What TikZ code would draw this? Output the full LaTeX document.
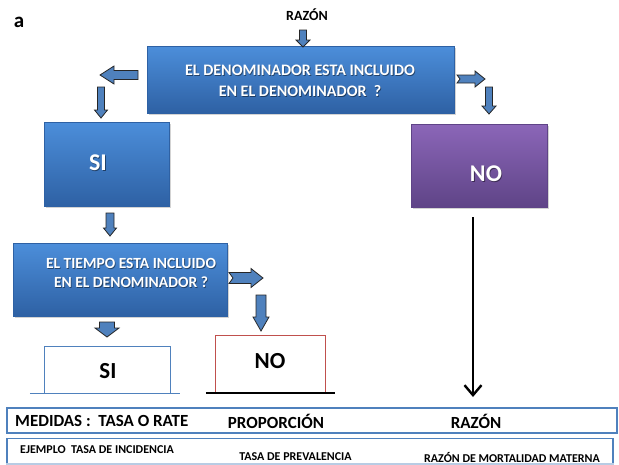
\documentclass[tikz,border=0pt]{standalone}
\usepackage{fontspec}
\setmainfont{Carlito}
\usetikzlibrary{shadows,arrows.meta}
\definecolor{bluetop}{HTML}{4C8EDA}
\definecolor{bluebot}{HTML}{2E61A4}
\definecolor{purtop}{HTML}{8B66B8}
\definecolor{purbot}{HTML}{5F4487}
\definecolor{arrfill}{HTML}{4F81BD}
\definecolor{outblue}{HTML}{4F81BD}
\definecolor{outred}{HTML}{C0504D}
\definecolor{rowlight}{HTML}{B8CCE4}
\tikzset{
  boxbase/.style={rectangle, inner sep=0pt, line width=0.4pt,
    drop shadow={shadow xshift=1.5pt, shadow yshift=-1.5pt, opacity=0.35}},
  bluebox/.style={boxbase, top color=bluetop, bottom color=bluebot, draw=bluebot},
  purbox/.style={boxbase, top color=purtop, bottom color=purbot, draw=purbot},
  wtext/.style={text=white, font=\bfseries, align=center, inner sep=0pt},
  tshadow/.style={text=black, text opacity=0.45, align=center, inner sep=0pt, xshift=0.8pt, yshift=-0.8pt},
  btext/.style={text=black, font=\bfseries, inner sep=0pt},
  openbox/.style={rectangle, inner sep=0pt},
  rowbox/.style={rectangle, inner sep=0pt, draw=outblue, line width=1.3pt},
  barrowst/.style={fill=arrfill, draw=black!85, line width=0.8pt, line join=miter},
  bigarrow/.style={line width=2.6pt, -{Straight Barb[length=10pt,width=17pt,line width=2.4pt]}}
}
% name, start, angle, length, shaft half, head half, head length, notch
\newcommand\blockarr[8]{%
  \coordinate (#1) at #2;
  \begin{scope}[shift={(#1)}, rotate=#3]
    \draw[barrowst] (0,-#5) -- ({#4-#7},-#5) -- ({#4-#7},-#6) -- (#4,0)
      -- ({#4-#7},#6) -- ({#4-#7},#5) -- (0,#5) -- (#8,0) -- cycle;
  \end{scope}}
\begin{document}
\begin{tikzpicture}[x=1pt, y=-1pt]
\useasboundingbox (0,0) rectangle (619,464);
% labels
\node[btext, font=\fontsize{21}{21}\selectfont\bfseries] (lbla) at (19,22) {a};
\node[btext, font=\fontsize{14}{14}\selectfont\bfseries] (razon) at (307,15) {RAZÓN};
% boxes
\node[bluebox, minimum width=307pt, minimum height=67pt] (q1) at (300.5,79.5) {};
\node[tshadow, font=\fontsize{16}{21}\selectfont\bfseries] (q1s) at (300,81) {EL DENOMINADOR ESTA INCLUIDO\\EN EL DENOMINADOR \ ?};
\node[wtext, font=\fontsize{16}{21}\selectfont\bfseries] (q1t) at (300,81) {EL DENOMINADOR ESTA INCLUIDO\\EN EL DENOMINADOR \ ?};
\node[bluebox, minimum width=125pt, minimum height=84pt] (si1) at (106.5,164) {};
\node[tshadow, font=\fontsize{24}{24}\selectfont\bfseries] (si1s) at (98,163) {SI};
\node[wtext, font=\fontsize{24}{24}\selectfont\bfseries] (si1t) at (98,163) {SI};
\node[purbox, minimum width=136pt, minimum height=83pt] (no1) at (479,165.5) {};
\node[tshadow, font=\fontsize{24}{24}\selectfont\bfseries] (no1s) at (486,174) {NO};
\node[wtext, font=\fontsize{24}{24}\selectfont\bfseries] (no1t) at (486,174) {NO};
\node[bluebox, minimum width=214pt, minimum height=73pt] (q2) at (120,279.5) {};
\node[tshadow, font=\fontsize{15.5}{19}\selectfont\bfseries] (q2s) at (131,273) {EL TIEMPO ESTA INCLUIDO\\EN EL DENOMINADOR ?};
\node[wtext, font=\fontsize{15.5}{19}\selectfont\bfseries] (q2t) at (131,273) {EL TIEMPO ESTA INCLUIDO\\EN EL DENOMINADOR ?};
% open boxes
\node[openbox, minimum width=125pt, minimum height=46pt] (si2) at (107.5,370) {};
\draw[outblue, line width=1pt] (si2.south west) |- (si2.north east) -- (si2.south east);
\draw[outblue, line width=1.3pt] ([xshift=-15pt]si2.south west) -- ([xshift=10pt]si2.south east);
\node[btext, font=\fontsize{23}{23}\selectfont\bfseries] (si2t) at (108,371) {SI};
\node[openbox, minimum width=109pt, minimum height=57pt] (no2) at (270.5,364.5) {};
\draw[outred, line width=1pt] (no2.south west) |- (no2.north east) -- (no2.south east);
\draw[black, line width=1.5pt] ([xshift=-10pt]no2.south west) -- ([xshift=10pt]no2.south east);
\node[btext, font=\fontsize{23}{23}\selectfont\bfseries] (no2t) at (270,361) {NO};
% block arrows
\blockarr{a0}{(303,30)}{-90}{17}{3.5}{7}{7}{0}
\blockarr{a1}{(138,75)}{180}{38}{4.5}{9}{14}{0}
\blockarr{a2}{(101,87)}{-90}{31}{3.5}{6.5}{8}{0}
\blockarr{a3}{(457,79)}{0}{28}{4}{8}{10}{3}
\blockarr{a4}{(489,87)}{-90}{27}{3.5}{7}{8}{0}
\blockarr{a5}{(110,213)}{-90}{23}{4}{6.5}{8}{0}
\blockarr{a6}{(229,278)}{0}{34}{5.5}{9.5}{12}{4}
\blockarr{a7}{(261,295)}{-90}{36}{5}{8}{14}{0}
\blockarr{a8}{(107,322)}{-90}{15}{7.5}{12}{9}{0}
% big arrow
\coordinate (bigA) at (473,217);
\coordinate (bigB) at (473,397);
\draw[bigarrow] (bigA) -- (bigB);
% rows
\node[rowbox, minimum width=610pt, minimum height=25pt] (row1) at (312,420.5) {};
\node[btext, anchor=west, font=\fontsize{17}{17}\selectfont\bfseries] (r1a) at (15,421) {MEDIDAS : \ TASA O RATE};
\node[btext, font=\fontsize{17}{17}\selectfont\bfseries] (r1b) at (276,421) {PROPORCIÓN};
\node[btext, font=\fontsize{17}{17}\selectfont\bfseries] (r1c) at (476,421) {RAZÓN};
\node[rowbox, line width=1.1pt, minimum width=606pt, minimum height=25pt] (row2) at (310,451) {};
\draw[rowlight, line width=1.3pt] (row2.south west) -- (row2.south east);
\node[btext, anchor=west, font=\fontsize{12}{12}\selectfont\bfseries] (r2a) at (20,450) {EJEMPLO \ TASA DE INCIDENCIA};
\node[btext, font=\fontsize{12}{12}\selectfont\bfseries] (r2b) at (295.5,457) {TASA DE PREVALENCIA};
\node[btext, font=\fontsize{12}{12}\selectfont\bfseries] (r2c) at (512,457) {RAZÓN DE MORTALIDAD MATERNA};
\end{tikzpicture}
\end{document}
